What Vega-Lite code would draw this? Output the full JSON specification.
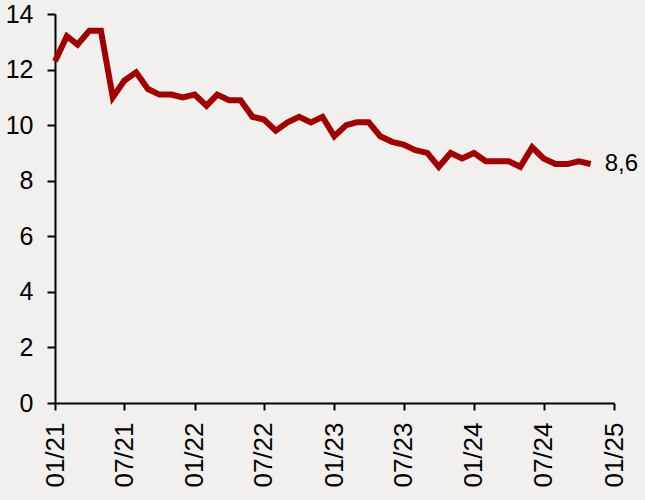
{
  "$schema": "https://vega.github.io/schema/vega-lite/v6.json",
  "autosize": "none",
  "width": 559,
  "height": 389,
  "padding": {"left": 55, "top": 14, "right": 31, "bottom": 97},
  "background": "#f2f0ef",
  "config": {
    "view": {"stroke": null},
    "font": "Liberation Sans",
    "axis": {"domainColor": "#000000", "tickColor": "#000000", "domainWidth": 2, "tickWidth": 2, "labelColor": "#000000", "labelFontSize": 25, "grid": false, "title": null}
  },
  "data": {"values": [
    {"date": "2021-01-01", "v": 12.3},
    {"date": "2021-02-01", "v": 13.2},
    {"date": "2021-03-01", "v": 12.9},
    {"date": "2021-04-01", "v": 13.4},
    {"date": "2021-05-01", "v": 13.4},
    {"date": "2021-06-01", "v": 11.0},
    {"date": "2021-07-01", "v": 11.6},
    {"date": "2021-08-01", "v": 11.9},
    {"date": "2021-09-01", "v": 11.3},
    {"date": "2021-10-01", "v": 11.1},
    {"date": "2021-11-01", "v": 11.1},
    {"date": "2021-12-01", "v": 11.0},
    {"date": "2022-01-01", "v": 11.1},
    {"date": "2022-02-01", "v": 10.7},
    {"date": "2022-03-01", "v": 11.1},
    {"date": "2022-04-01", "v": 10.9},
    {"date": "2022-05-01", "v": 10.9},
    {"date": "2022-06-01", "v": 10.3},
    {"date": "2022-07-01", "v": 10.2},
    {"date": "2022-08-01", "v": 9.8},
    {"date": "2022-09-01", "v": 10.1},
    {"date": "2022-10-01", "v": 10.3},
    {"date": "2022-11-01", "v": 10.1},
    {"date": "2022-12-01", "v": 10.3},
    {"date": "2023-01-01", "v": 9.6},
    {"date": "2023-02-01", "v": 10.0},
    {"date": "2023-03-01", "v": 10.1},
    {"date": "2023-04-01", "v": 10.1},
    {"date": "2023-05-01", "v": 9.6},
    {"date": "2023-06-01", "v": 9.4},
    {"date": "2023-07-01", "v": 9.3},
    {"date": "2023-08-01", "v": 9.1},
    {"date": "2023-09-01", "v": 9.0},
    {"date": "2023-10-01", "v": 8.5},
    {"date": "2023-11-01", "v": 9.0},
    {"date": "2023-12-01", "v": 8.8},
    {"date": "2024-01-01", "v": 9.0},
    {"date": "2024-02-01", "v": 8.7},
    {"date": "2024-03-01", "v": 8.7},
    {"date": "2024-04-01", "v": 8.7},
    {"date": "2024-05-01", "v": 8.5},
    {"date": "2024-06-01", "v": 9.2},
    {"date": "2024-07-01", "v": 8.8},
    {"date": "2024-08-01", "v": 8.6},
    {"date": "2024-09-01", "v": 8.6},
    {"date": "2024-10-01", "v": 8.7},
    {"date": "2024-11-01", "v": 8.6, "label": "8,6"}
  ]},
  "encoding": {
    "x": {
      "field": "date", "type": "temporal",
      "scale": {"type": "utc", "domain": [{"year": 2021, "month": 1, "date": 1, "utc": true}, {"year": 2025, "month": 1, "date": 1, "utc": true}]},
      "axis": {
        "values": [
          {"year": 2021, "month": 1, "date": 1, "utc": true},
          {"year": 2021, "month": 7, "date": 1, "utc": true},
          {"year": 2022, "month": 1, "date": 1, "utc": true},
          {"year": 2022, "month": 7, "date": 1, "utc": true},
          {"year": 2023, "month": 1, "date": 1, "utc": true},
          {"year": 2023, "month": 7, "date": 1, "utc": true},
          {"year": 2024, "month": 1, "date": 1, "utc": true},
          {"year": 2024, "month": 7, "date": 1, "utc": true},
          {"year": 2025, "month": 1, "date": 1, "utc": true}
        ],
        "labelExpr": "utcFormat(datum.value, '%m/%y')",
        "labelAngle": -90, "labelAlign": "right", "labelBaseline": "middle", "labelFontSize": 26,
        "tickSize": 7, "labelPadding": 12, "labelFlush": false, "labelOverlap": false
      }
    },
    "y": {
      "field": "v", "type": "quantitative",
      "scale": {"domain": [0, 14], "nice": false, "zero": true},
      "axis": {"values": [0, 2, 4, 6, 8, 10, 12, 14], "tickSize": 8, "labelPadding": 14}
    }
  },
  "layer": [
    {"mark": {"type": "line", "color": "#a00000", "strokeWidth": 6, "strokeJoin": "miter", "strokeCap": "butt"}},
    {"mark": {"type": "text", "align": "left", "dx": 14, "fontSize": 24, "color": "#000000"},
     "transform": [{"filter": "datum.label != null"}],
     "encoding": {"text": {"field": "label"}}}
  ]
}
